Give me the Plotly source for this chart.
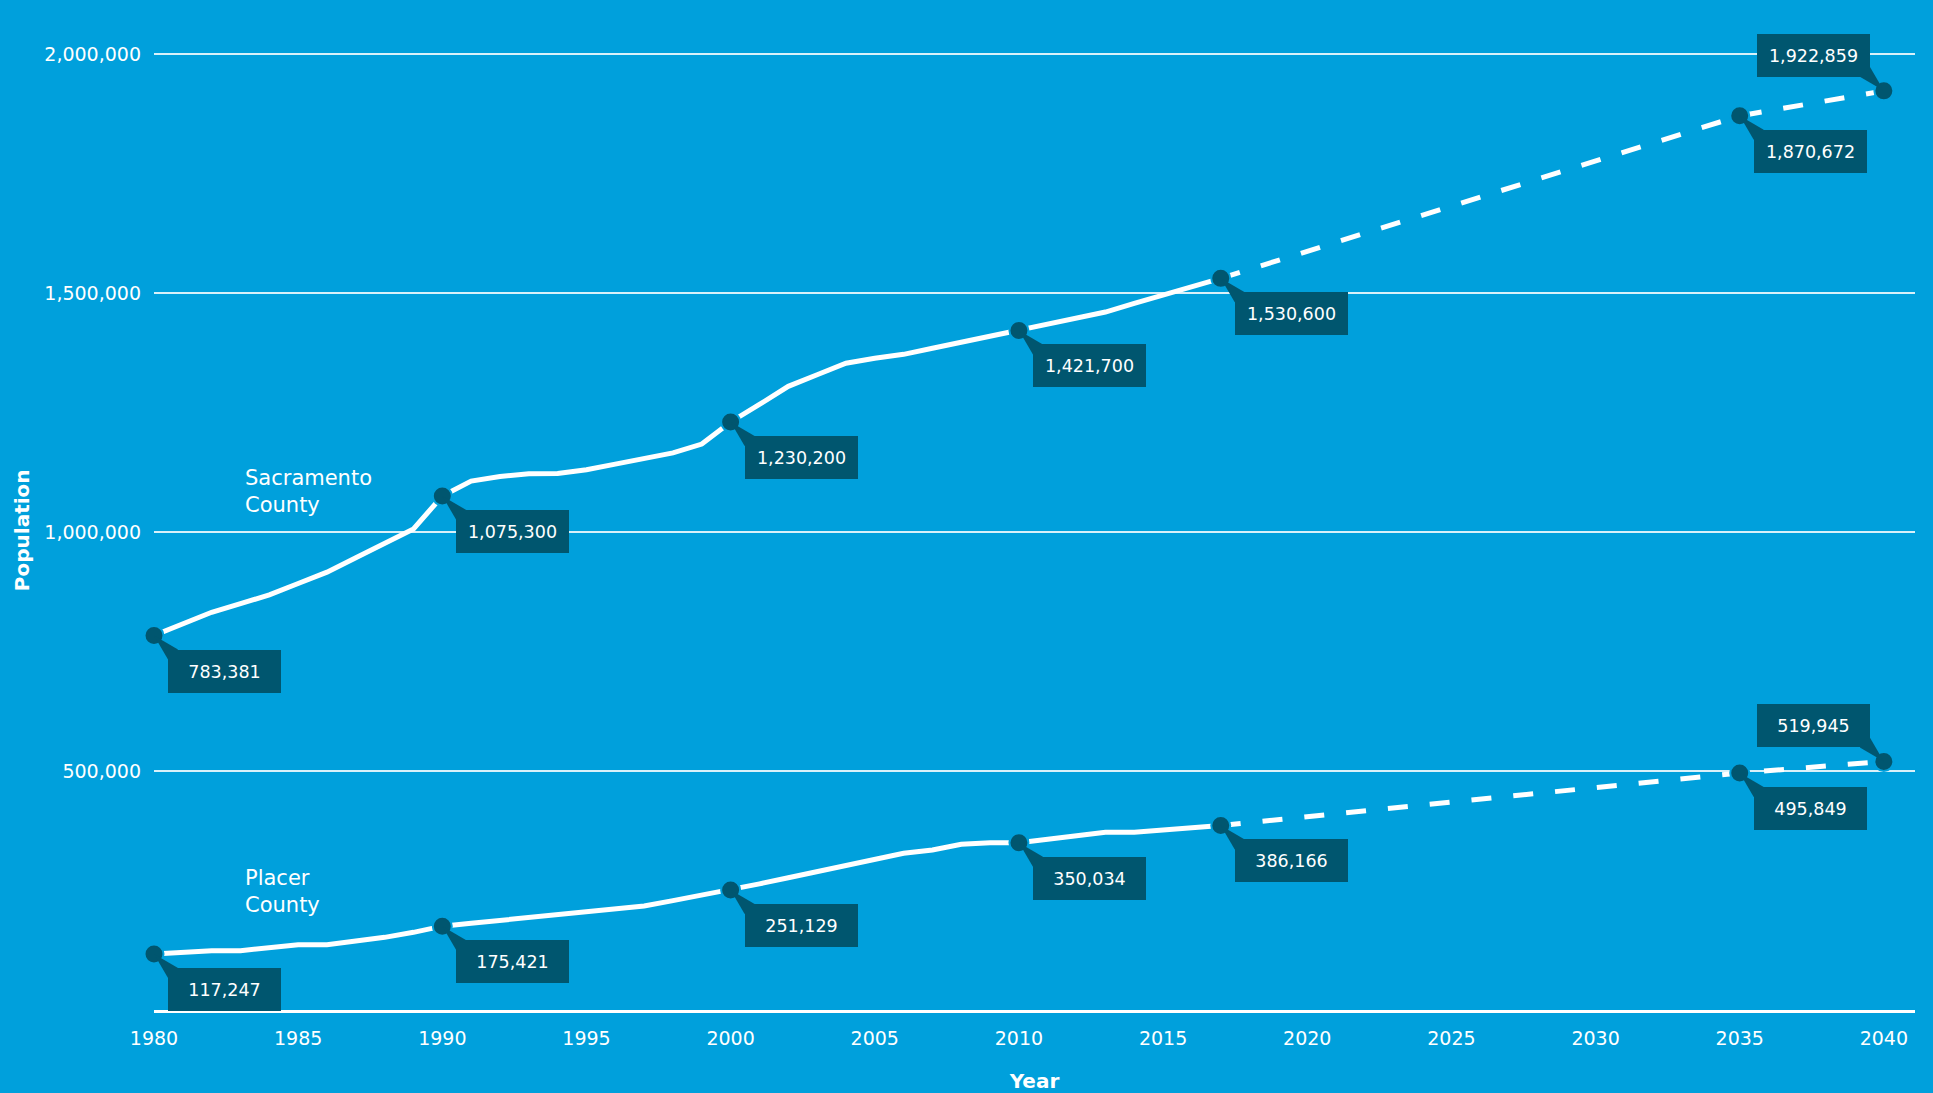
import plotly.graph_objects as go

# Annual population estimates, 1980-2017
years_hist = list(range(1980, 2018))
sacramento_hist = [
    783381, 807700, 832000, 850200, 868400, 892300, 916000, 946200, 976400, 1006500,
    1075300, 1106600, 1116300, 1122000, 1122600, 1130200, 1142000, 1153700, 1165400, 1184000,
    1230200, 1266800, 1304800, 1329000, 1353000, 1363400, 1371700, 1384400, 1397100, 1409800,
    1421700, 1435700, 1448000, 1460200, 1478300, 1496400, 1514500, 1530600,
]
placer_hist = [
    117247, 120700, 124100, 124100, 130300, 136600, 136600, 144300, 152000, 162500,
    175421, 181400, 187500, 193500, 199500, 205600, 211600, 217600, 228800, 240000,
    251129, 263900, 276700, 289500, 302300, 315000, 327800, 334700, 346600, 349800,
    350034, 357300, 364500, 371800, 371800, 376600, 381400, 386166,
]

# Projections, 2017-2040
years_proj = [2017, 2035, 2040]
sacramento_proj = [1530600, 1870672, 1922859]
placer_proj = [386166, 495849, 519945]

# Years that get a value callout
callout_years = [1980, 1990, 2000, 2010, 2017, 2035, 2040]

x_tick_vals = list(range(1980, 2041, 5))
y_tick_vals = [500000, 1000000, 1500000, 2000000]
y_tick_text = ["500,000", "1,000,000", "1,500,000", "2,000,000"]

BG = "#00A0DC"
DARK = "#00566F"
WHITE = "#FFFFFF"
FONT = "DejaVu Sans"

fig = go.Figure()


def series_value(year, hist_years, hist_vals, proj_years, proj_vals):
    if year in hist_years:
        return hist_vals[hist_years.index(year)]
    return proj_vals[proj_years.index(year)]


for hist, proj in [(sacramento_hist, sacramento_proj), (placer_hist, placer_proj)]:
    fig.add_trace(go.Scatter(
        x=years_hist, y=hist, mode="lines", cliponaxis=False,
        line=dict(color=WHITE, width=5), hoverinfo="skip", showlegend=False,
    ))
    fig.add_trace(go.Scatter(
        x=years_proj, y=proj, mode="lines", cliponaxis=False,
        line=dict(color=WHITE, width=5, dash="20px,22px"), hoverinfo="skip", showlegend=False,
    ))

shapes = []
annotations = []
OFF = 14
TAIL = 10
for hist, proj in [(sacramento_hist, sacramento_proj), (placer_hist, placer_proj)]:
    vals = [series_value(yr, years_hist, hist, years_proj, proj) for yr in callout_years]
    for yr, v in zip(callout_years, vals):
        up_left = yr == 2040
        if up_left:
            path = f"M 0 0 L {-OFF - TAIL} {OFF} L {-OFF} {OFF + TAIL} Z"
        else:
            path = f"M 0 0 L {OFF + TAIL} {-OFF} L {OFF} {-OFF - TAIL} Z"
        shapes.append(dict(
            type="path", xref="x", yref="y", xsizemode="pixel", ysizemode="pixel",
            xanchor=yr, yanchor=v, path=path, fillcolor=DARK, line=dict(width=0),
            layer="above",
        ))
        annotations.append(dict(
            x=yr, y=v, xref="x", yref="y", text=f"{v:,}", showarrow=False,
            xanchor="right" if up_left else "left",
            yanchor="bottom" if up_left else "top",
            xshift=-OFF if up_left else OFF,
            yshift=OFF if up_left else -OFF,
            width=113, height=43, bgcolor=DARK, borderpad=0, borderwidth=0,
            font=dict(family=FONT, size=17.5, color=WHITE),
        ))
    fig.add_trace(go.Scatter(
        x=callout_years, y=vals, mode="markers", cliponaxis=False,
        marker=dict(size=19, color=DARK, line=dict(color=BG, width=2)),
        hoverinfo="skip", showlegend=False,
    ))

# Series names
annotations.append(dict(
    x=1983.1, y=1085000, xref="x", yref="y", text="Sacramento<br>County",
    showarrow=False, xanchor="left", yanchor="middle", align="left",
    font=dict(family=FONT, size=21, color=WHITE),
))
annotations.append(dict(
    x=1983.1, y=247000, xref="x", yref="y", text="Placer<br>County",
    showarrow=False, xanchor="left", yanchor="middle", align="left",
    font=dict(family=FONT, size=21, color=WHITE),
))

# Vertical axis title, set a little below the plot's middle
annotations.append(dict(
    x=-0.075, y=0.475, xref="paper", yref="paper", text="Population",
    showarrow=False, textangle=-90, xanchor="center", yanchor="middle",
    font=dict(family=FONT, size=20, color=WHITE, weight="bold"),
))

fig.update_layout(
    width=1933, height=1093,
    margin=dict(l=154, r=18, t=0, b=83),
    paper_bgcolor=BG, plot_bgcolor=BG,
    font=dict(family=FONT, color=WHITE),
    shapes=shapes, annotations=annotations,
    xaxis=dict(
        range=[1980, 2041.08], tickvals=x_tick_vals, showgrid=False, zeroline=False,
        showline=True, linecolor=WHITE, linewidth=3, ticks="", ticklabelstandoff=9,
        tickfont=dict(family=FONT, size=19, color=WHITE),
        title=dict(text="Year", standoff=27,
                   font=dict(family=FONT, size=20, color=WHITE, weight="bold")),
    ),
    yaxis=dict(
        range=[0, 2112971], tickvals=y_tick_vals, ticktext=y_tick_text,
        showgrid=True, gridcolor="rgba(255,255,255,0.85)", gridwidth=1.5,
        zeroline=False, showline=False, ticks="", ticklabelstandoff=12,
        tickfont=dict(family=FONT, size=19, color=WHITE),
    ),
)

fig.write_html("out.html")
